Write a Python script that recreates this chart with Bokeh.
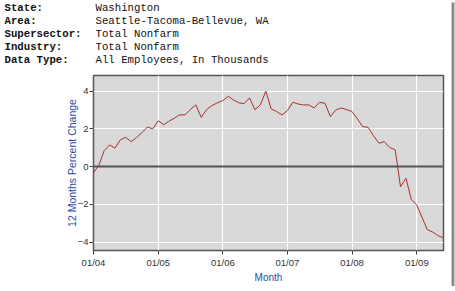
import pandas as pd
from bokeh.plotting import figure
from bokeh.layouts import column, row
from bokeh.models import FixedTicker, DatetimeTickFormatter, Span, Range1d
from bokeh.core.properties import value
from bokeh.embed import file_html
from bokeh.resources import INLINE

# ---- data ----
header_keys = ["State:", "Area:", "Supersector:", "Industry:", "Data Type:"]
header_vals = ["Washington", "Seattle-Tacoma-Bellevue, WA", "Total Nonfarm",
               "Total Nonfarm", "All Employees, In Thousands"]

start_month = "2004-01-01"
pct_change = [
    -0.32, 0.08, 0.84, 1.15, 0.98, 1.42, 1.55, 1.32, 1.55, 1.80, 2.10, 2.00,
    2.43, 2.22, 2.40, 2.56, 2.74, 2.74, 3.02, 3.27, 2.61, 3.02, 3.24, 3.38,
    3.50, 3.73, 3.54, 3.38, 3.34, 3.64, 3.02, 3.27, 4.00, 3.06, 2.92, 2.74,
    2.97, 3.41, 3.32, 3.27, 3.27, 3.11, 3.41, 3.36, 2.65, 3.00, 3.11, 3.02,
    2.92, 2.52, 2.12, 2.08, 1.64, 1.24, 1.32, 1.01, 0.89, -1.07, -0.62, -1.74,
    -2.04, -2.72, -3.34, -3.47, -3.66, -3.79,
]
tick_years = [2004, 2005, 2006, 2007, 2008, 2009]
y_ticks = [-4, -2, 0, 2, 4]
x_title = "Month"
y_title = "12 Months Percent Change"

months = pd.date_range(start_month, periods=len(pct_change), freq="MS")

SHADOW_COLORS = ["#3c3c3c", "#5c5c5c", "#8a8a8a", "#c4c4c4"]
PW = 451          # white panel width
HEAD_H = 74
CHART_H = 212     # 74 + 212 = 286


def bare(w, h, xr, yr):
    f = figure(width=w, height=h, output_backend="svg", toolbar_location=None,
               x_range=xr, y_range=yr,
               x_axis_location=None, y_axis_location=None,
               min_border=0, min_border_left=0, min_border_right=0,
               min_border_top=0, min_border_bottom=0)
    f.frame_align = False
    f.grid.visible = False
    f.outline_line_color = None
    return f


# ---- header ----
hdr = bare(PW, HEAD_H, Range1d(0, PW), Range1d(HEAD_H, 0))
hdr.background_fill_color = "white"
hdr.border_fill_color = "white"
row_y = [7 + 13.2 * i for i in range(len(header_keys))]
hdr.text(x=[4] * len(header_keys), y=row_y, text=header_keys,
         text_font=value("Liberation Mono"), text_font_size="10.7px",
         text_font_style="bold", text_baseline="middle", text_color="#111111")
hdr.text(x=[95] * len(header_vals), y=row_y, text=header_vals,
         text_font=value("Liberation Mono"), text_font_size="10.7px",
         text_baseline="middle", text_color="#111111")

# ---- chart ----
FL, FR = 93, 443
p = figure(width=PW, height=CHART_H, output_backend="svg", toolbar_location=None,
           x_axis_type="datetime",
           x_range=Range1d(months[0], months[-1]),
           y_range=Range1d(-4.45, 4.83),
           min_border_left=FL, min_border_right=PW - FR,
           min_border_top=1, min_border_bottom=36)
p.frame_align = False

p.background_fill_color = "#d9d9d9"
p.border_fill_color = "white"
p.outline_line_color = "#555555"
p.outline_line_width = 1.5

p.line(months, pct_change, line_color="#a83030", line_width=1.0)
p.add_layout(Span(location=0, dimension="width", line_color="#555555", line_width=2))

tick_ms = [pd.Timestamp(f"{y}-01-01").value // 10**6 for y in tick_years]
p.xaxis.ticker = FixedTicker(ticks=tick_ms)
p.xaxis.formatter = DatetimeTickFormatter(months="%m/%y", days="%m/%y", years="%m/%y")
p.yaxis.ticker = FixedTicker(ticks=y_ticks)

for ax in (p.xaxis[0], p.yaxis[0]):
    ax.axis_line_color = None
    ax.major_tick_line_color = "#444444"
    ax.major_tick_in = 0
    ax.major_tick_out = 4
    ax.minor_tick_line_color = None
    ax.major_label_text_font = "Liberation Sans"
    ax.major_label_text_font_size = "9.5px"
    ax.major_label_text_color = "#333333"
    ax.axis_label_text_font = "Liberation Sans"
    ax.axis_label_text_font_style = "normal"
    ax.axis_label_text_color = "#2a4aa8"

p.xaxis.axis_label = x_title
p.yaxis.axis_label = y_title
p.xaxis.axis_label_text_font_size = "10px"
p.yaxis.axis_label_text_font_size = "10.5px"
p.xaxis.major_label_standoff = 2
p.yaxis.major_label_standoff = 1
p.xaxis.axis_label_standoff = 1
p.yaxis.axis_label_standoff = -3

p.xgrid.grid_line_color = "white"
p.ygrid.grid_line_color = "white"
p.xgrid.grid_line_width = 1.2
p.ygrid.grid_line_width = 1.2

# ---- shadow strips (gradient bands) ----
RW = 455 - PW
BH = 291 - HEAD_H - CHART_H
rs = bare(RW, HEAD_H + CHART_H, Range1d(0, RW), Range1d(HEAD_H + CHART_H, 0))
rs.background_fill_color = "white"
rs.border_fill_color = "white"
rs.quad(left=list(range(RW)), right=list(range(1, RW + 1)),
        top=[2] * RW, bottom=[HEAD_H + CHART_H] * RW,
        fill_color=SHADOW_COLORS[:RW], line_color=None)

bs = bare(455, BH, Range1d(0, 455), Range1d(BH, 0))
bs.background_fill_color = "white"
bs.border_fill_color = "white"
bs.quad(left=[3] * BH, right=[455] * BH, top=list(range(BH)),
        bottom=list(range(1, BH + 1)),
        fill_color=(SHADOW_COLORS + ["#e0e0e0"] * 4)[:BH], line_color=None)

layout = column(row(column(hdr, p, spacing=0), rs, spacing=0), bs, spacing=0)

open("out.html", "w").write(file_html(layout, INLINE))
